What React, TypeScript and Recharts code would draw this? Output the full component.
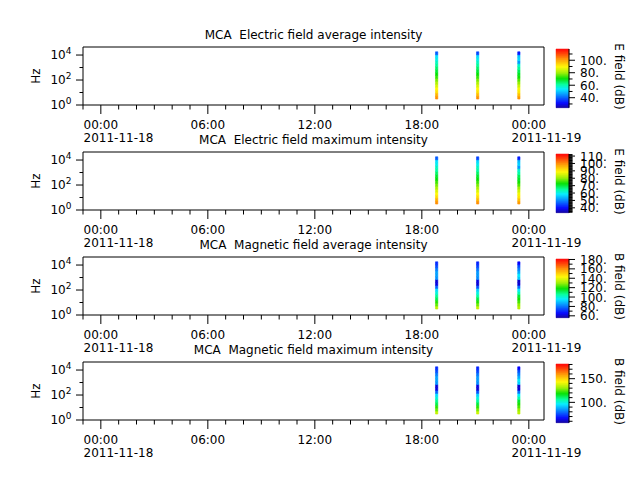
import React from 'react';
import { ComposedChart, XAxis, YAxis, ReferenceArea } from 'recharts';

// frequency bin edges of the MCA spectra (Hz)
const FREQ_EDGES = [3.0, 5.2, 9.0, 15.5, 26.6, 45.7, 79, 135, 234, 400, 690, 1200, 2050, 3540, 6100, 10500, 18200];
// centre of each half-orbit strip, hours after 2011-11-18 00:00
const STRIP_HOURS = [18.83, 21.13, 23.44];

// dB per frequency bin, lowest bin first, one row per strip
const E_AVG_DB = [
  [103, 99, 93, 90, 86, 82, 78, 74, 71, 68, 65, 62, 59, 56, 53, 40],
  [103, 98, 93, 90, 86, 82, 78, 74, 71, 68, 65, 62, 59, 56, 52, 38],
  [102, 97, 92, 89, 85, 80, 76, 72, 69, 66, 62, 58, 46, 52, 50, 34],
];
const E_MAX_DB = [
  [100, 97, 92, 89, 86, 82, 79, 76, 73, 71, 68, 65, 63, 60, 58, 47],
  [100, 96, 92, 89, 86, 82, 79, 76, 73, 71, 68, 65, 63, 60, 57, 45],
  [99, 95, 91, 88, 85, 81, 77, 74, 71, 69, 65, 62, 52, 57, 55, 42],
];
const B_AVG_DB = [
  [135, 126, 121, 112, 107, 100, 94, 78, 63, 62, 84, 86, 86, 81, 75, 71],
  [136, 127, 121, 113, 106, 99, 92, 76, 62, 63, 83, 85, 85, 80, 74, 70],
  [134, 130, 124, 120, 114, 104, 96, 80, 62, 61, 92, 96, 88, 82, 76, 66],
];
const B_MAX_DB = [
  [136, 127, 122, 113, 108, 101, 95, 79, 64, 63, 85, 87, 87, 82, 76, 72],
  [137, 128, 122, 114, 107, 100, 93, 77, 63, 64, 84, 86, 86, 81, 75, 71],
  [135, 131, 125, 121, 115, 105, 97, 81, 63, 62, 93, 97, 89, 83, 77, 67],
];

const HOUR_TICKS = [-1, 0, 1, 2, 3, 4, 5, 6, 7, 8, 9, 10, 11, 12, 13, 14, 15, 16, 17, 18, 19, 20, 21, 22, 23, 24];
const MAJOR_HOURS = [0, 6, 12, 18, 24];
const HOUR_LABELS = ['00:00', '06:00', '12:00', '18:00', '00:00'];
const DATE_LABELS: Record<number, string> = { 0: '2011-11-18', 24: '2011-11-19' };
const FREQ_TICKS = [1, 10, 100, 1000, 10000];

const TITLES = [
  'MCA  Electric field average intensity',
  'MCA  Electric field maximum intensity',
  'MCA  Magnetic field average intensity',
  'MCA  Magnetic field maximum intensity',
];
const CBAR_LABELS = ['E field (dB)', 'E field (dB)', 'B field (dB)', 'B field (dB)'];
const CBAR_RANGES = [[24, 118], [33.4, 112.8], [56, 181], [57, 181]];
const CBAR_MAJOR = [
  [40, 60, 80, 100],
  [40, 50, 60, 70, 80, 90, 100, 110],
  [60, 80, 100, 120, 140, 160, 180],
  [100, 150],
];
const CBAR_MINOR_STEP = [10, 1, 10, 10];

const SPECTRA = [E_AVG_DB, E_MAX_DB, B_AVG_DB, B_MAX_DB];

// rainbow colour table
const CMAP: [number, number[]][] = [
  [0.0, [20, 0, 150]],
  [0.08, [0, 0, 255]],
  [0.22, [0, 140, 255]],
  [0.32, [0, 235, 255]],
  [0.4, [0, 255, 160]],
  [0.5, [0, 225, 0]],
  [0.6, [160, 240, 0]],
  [0.7, [255, 250, 0]],
  [0.82, [255, 160, 0]],
  [0.92, [255, 70, 0]],
  [1.0, [255, 0, 0]],
];
const CBAR_STEPS = 90;

const rgb = (c: number[]) => `rgb(${c.map((v) => Math.round(v)).join(',')})`;

function colorOf(t: number) {
  const u = Math.max(0, Math.min(1, t));
  for (let i = 1; i < CMAP.length; i++) {
    const [t1, c1] = CMAP[i];
    const [t0, c0] = CMAP[i - 1];
    if (u <= t1) {
      const f = (u - t0) / (t1 - t0);
      return rgb(c0.map((v, k) => v + (c1[k] - v) * f));
    }
  }
  return rgb(CMAP[CMAP.length - 1][1]);
}

const FONT = 'DejaVu Sans, sans-serif';
const PANEL_STEP = 105;
const PLOT_TOP = 47;
const PLOT_LEFT = 83;
const PLOT_RIGHT = 544;
const PLOT_H = 58;
const X_DOMAIN = [-1, 24.85];
const Y_DOMAIN = [1, 44000];
const HALF_WIDTH = 0.065;

function HourTick(props: any) {
  const { x, y, payload } = props;
  const h = payload.value;
  const idx = MAJOR_HOURS.indexOf(h);
  const major = idx >= 0;
  return (
    <g>
      <line x1={x} y1={y} x2={x} y2={y + (major ? 9 : 4.5)} stroke="#000" strokeWidth={1} />
      {major && (
        <text x={x - 17.3} y={y + 24} fontSize={12} fontFamily={FONT} fill="#000">
          {HOUR_LABELS[idx]}
        </text>
      )}
      {DATE_LABELS[h] && (
        <text x={x - 17.3} y={y + 36.5} fontSize={12} fontFamily={FONT} fill="#000">
          {DATE_LABELS[h]}
        </text>
      )}
    </g>
  );
}

function FreqTick(props: any) {
  const { x, y, payload } = props;
  const exp = Math.round(Math.log10(payload.value));
  const major = exp % 2 === 0;
  return (
    <g>
      <line x1={x - (major ? 7 : 3.5)} y1={y} x2={x} y2={y} stroke="#000" strokeWidth={1} />
      {major && (
        <text x={x - 11.5} y={y + 4} fontSize={12} fontFamily={FONT} fill="#000" textAnchor="end">
          10
          <tspan dy={-5.5} fontSize={9}>
            {exp}
          </tspan>
        </text>
      )}
    </g>
  );
}

function makeBarTick(majors: number[]) {
  return function BarTick(props: any) {
    const { x, y, payload } = props;
    const major = majors.includes(payload.value);
    return (
      <g>
        <line x1={x} y1={y} x2={x + (major ? 6 : 3.5)} y2={y} stroke="#000" strokeWidth={1} />
        {major && (
          <text x={x + 11} y={y + 4.5} fontSize={12} fontFamily={FONT} fill="#000">
            {`${payload.value}.`}
          </text>
        )}
      </g>
    );
  };
}

function Panel({ index }: { index: number }) {
  const spectra = SPECTRA[index];
  const [lo, hi] = CBAR_RANGES[index];
  return (
    <ComposedChart
      width={640}
      height={150}
      data={[]}
      margin={{ top: PLOT_TOP, right: 640 - PLOT_RIGHT, bottom: 150 - PLOT_TOP - PLOT_H - 40, left: PLOT_LEFT - 60 }}
      style={{ position: 'absolute', left: 0, top: index * PANEL_STEP }}
    >
      <XAxis
        type="number"
        dataKey="h"
        domain={X_DOMAIN}
        allowDataOverflow
        ticks={HOUR_TICKS}
        interval={0}
        tickSize={0}
        tickMargin={0}
        axisLine={false}
        tickLine={false}
        height={40}
        tick={<HourTick />}
      />
      <YAxis
        type="number"
        scale="log"
        domain={Y_DOMAIN}
        allowDataOverflow
        ticks={FREQ_TICKS}
        interval={0}
        tickSize={0}
        tickMargin={0}
        axisLine={false}
        tickLine={false}
        width={60}
        tick={<FreqTick />}
      />
      {spectra.map((strip, s) =>
        strip.map((db, k) => {
          const color = colorOf((db - lo) / (hi - lo));
          return (
            <ReferenceArea
              key={`c-${s}-${k}`}
              x1={STRIP_HOURS[s] - HALF_WIDTH}
              x2={STRIP_HOURS[s] + HALF_WIDTH}
              y1={FREQ_EDGES[k]}
              y2={FREQ_EDGES[k + 1]}
              fill={color}
              fillOpacity={1}
              stroke={color}
              strokeWidth={0.6}
            />
          );
        })
      )}
      <ReferenceArea
        x1={X_DOMAIN[0]}
        x2={X_DOMAIN[1]}
        y1={Y_DOMAIN[0]}
        y2={Y_DOMAIN[1]}
        fill="none"
        stroke="#000"
        strokeWidth={1}
      />
    </ComposedChart>
  );
}

function ColorBar({ index }: { index: number }) {
  const [lo, hi] = CBAR_RANGES[index];
  const majors = CBAR_MAJOR[index];
  const step = CBAR_MINOR_STEP[index];
  const ticks: number[] = [];
  for (let v = Math.ceil(lo / step) * step; v <= hi; v += step) ticks.push(v);
  const BarTick = makeBarTick(majors);
  const top = PLOT_TOP + 2;
  const h = PLOT_H + 0.7;
  const segs: number[] = [];
  for (let j = 0; j < CBAR_STEPS; j++) segs.push(j);
  const d = (hi - lo) / CBAR_STEPS;
  return (
    <ComposedChart
      width={100}
      height={150}
      data={[]}
      margin={{ top, right: 11, bottom: 150 - top - h, left: 16 }}
      style={{ position: 'absolute', left: 540, top: index * PANEL_STEP }}
    >
      <XAxis type="number" dataKey="x" domain={[0, 1]} allowDataOverflow hide />
      <YAxis
        type="number"
        orientation="right"
        domain={[lo, hi]}
        allowDataOverflow
        ticks={ticks}
        interval={0}
        tickSize={0}
        tickMargin={0}
        axisLine={{ stroke: '#000' }}
        tickLine={false}
        width={60}
        tick={<BarTick />}
      />
      {segs.map((j) => {
        const color = colorOf((j + 0.5) / CBAR_STEPS);
        return (
          <ReferenceArea
            key={`s${j}`}
            x1={0}
            x2={1}
            y1={lo + j * d}
            y2={lo + (j + 1) * d}
            fill={color}
            fillOpacity={1}
            stroke={color}
            strokeWidth={0.5}
          />
        );
      })}
    </ComposedChart>
  );
}

export default function App() {
  const panels = [0, 1, 2, 3];
  return (
    <div
      style={{
        position: 'absolute',
        left: 0,
        top: 0,
        width: 640,
        height: 480,
        background: '#fff',
        fontFamily: FONT,
      }}
    >
      {panels.map((i) => (
        <Panel key={`p${i}`} index={i} />
      ))}
      {panels.map((i) => (
        <ColorBar key={`b${i}`} index={i} />
      ))}
      <svg width={640} height={480} style={{ position: 'absolute', left: 0, top: 0, pointerEvents: 'none' }}>
        {panels.map((i) => {
          const top = PLOT_TOP + i * PANEL_STEP;
          const mid = top + PLOT_H / 2;
          return (
            <g key={`t${i}`} fontFamily={FONT} fontSize={12} fill="#000">
              <text x={(PLOT_LEFT + PLOT_RIGHT) / 2} y={top - 8} textAnchor="middle" style={{ whiteSpace: 'pre' }}>
                {TITLES[i]}
              </text>
              <text x={36} y={mid} textAnchor="middle" dominantBaseline="central" transform={`rotate(-90 36 ${mid})`}>
                Hz
              </text>
              <text
                x={619}
                y={mid + 0.5}
                textAnchor="middle"
                dominantBaseline="central"
                transform={`rotate(90 619 ${mid + 0.5})`}
              >
                {CBAR_LABELS[i]}
              </text>
            </g>
          );
        })}
      </svg>
    </div>
  );
}
